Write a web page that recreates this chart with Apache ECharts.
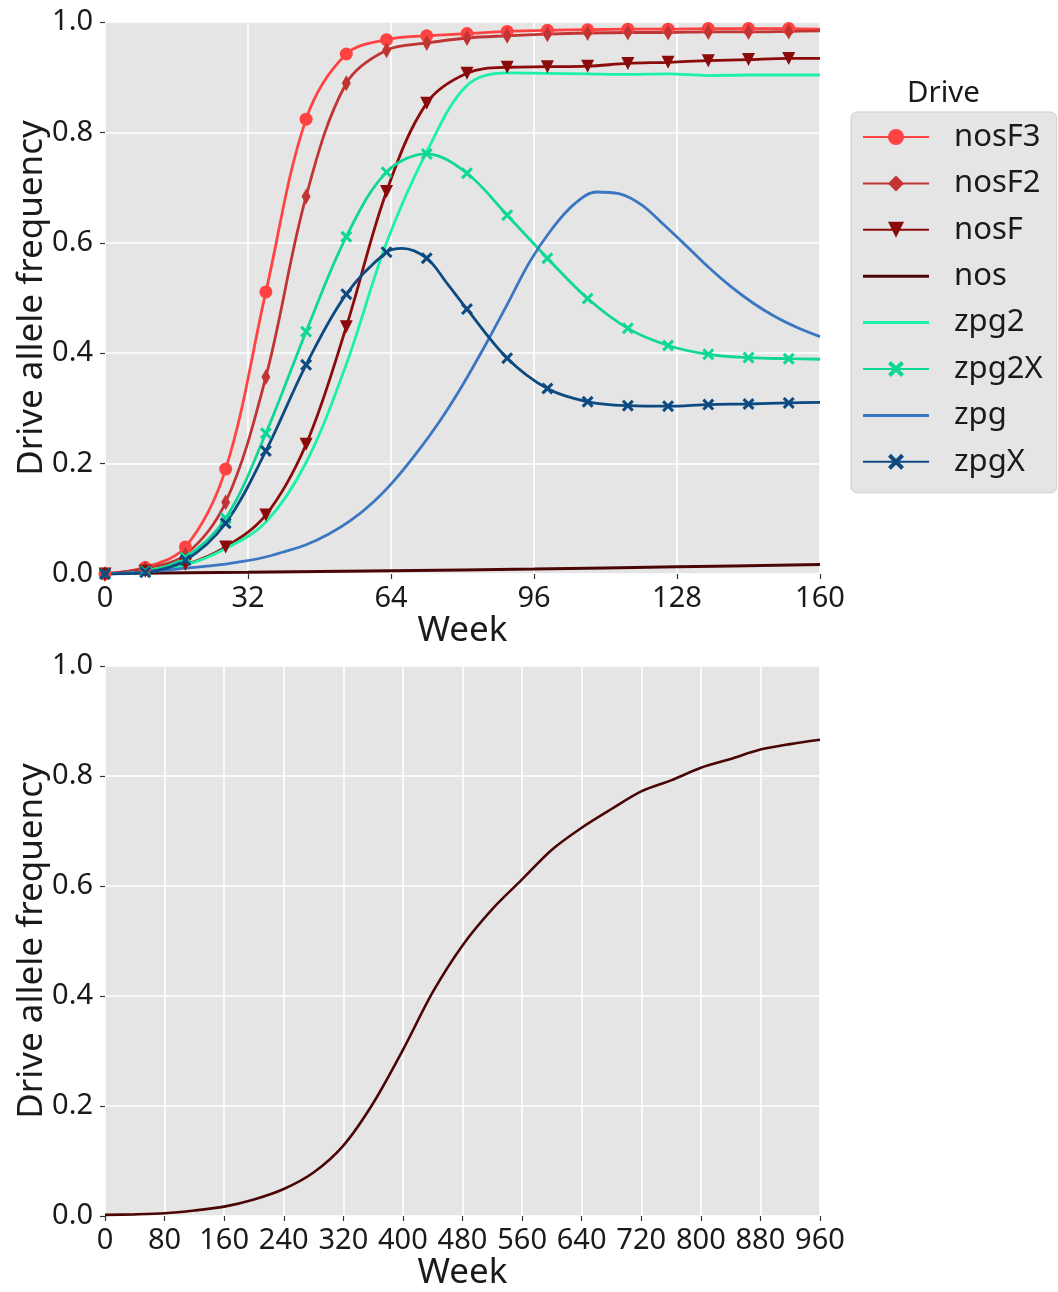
<!DOCTYPE html>
<html>
<head>
<meta charset="utf-8">
<script src="https://cdn.jsdelivr.net/npm/echarts@6/dist/echarts.min.js"></script>
<style>
html,body{margin:0;padding:0;background:#fff;}
#chart{width:1058px;height:1292px;}
</style>
</head>
<body>
<div id="chart"></div>
<script>
// ---- data ----
// marker weeks (every 9 weeks) + final week 160
const weeksTop = [0,9,18,27,36,45,54,63,72,81,90,99,108,117,126,135,144,153,160];
const nosF3  = [0,0.012,0.049,0.19,0.511,0.824,0.942,0.968,0.975,0.979,0.983,0.985,0.986,0.987,0.987,0.988,0.988,0.988,0.987];
const nosF2  = [0,0.010,0.035,0.13,0.357,0.684,0.889,0.949,0.962,0.971,0.975,0.978,0.980,0.981,0.981,0.982,0.982,0.983,0.984];
const nosF   = [0,0.005,0.017,0.049,0.107,0.235,0.448,0.693,0.853,0.907,0.918,0.919,0.920,0.925,0.927,0.930,0.932,0.934,0.934];
const zpg2   = [0,0.004,0.016,0.046,0.094,0.202,0.38,0.60,0.765,0.885,0.908,0.907,0.906,0.905,0.906,0.903,0.904,0.904,0.904];
const zpg2X  = [0,0.005,0.030,0.101,0.255,0.439,0.611,0.728,0.761,0.726,0.650,0.572,0.499,0.445,0.414,0.398,0.392,0.390,0.389];
const zpgX   = [0,0.003,0.025,0.092,0.223,0.379,0.507,0.583,0.572,0.480,0.391,0.336,0.312,0.305,0.304,0.307,0.308,0.310,0.311];
// extra (unmarked) curve points for zpgX around its peak
const zpgXExtraWeeks = [66.5, 76.5];
const zpgXExtra      = [0.590, 0.527];
// zpg (no markers), read every 5 weeks
const weeksZpg = [0,5,10,15,20,25,30,35,40,45,50,55,60,65,70,75,80,85,90,95,100,105,110,115,120,125,130,135,140,145,150,155,160];
const zpg      = [0,0.002,0.004,0.008,0.012,0.016,0.022,0.029,0.040,0.053,0.072,0.097,0.130,0.172,0.222,0.278,0.342,0.413,0.488,0.565,0.625,0.670,0.692,0.689,0.669,0.633,0.595,0.556,0.521,0.491,0.466,0.446,0.430];
// nos (no markers)
const weeksNosTop = [0,32,64,96,128,160];
const nosTop = [0.001,0.003,0.006,0.009,0.013,0.017];
const weeksBottom = [0,40,80,120,160,200,240,280,320,360,400,440,480,520,560,600,640,680,720,760,800,840,880,920,960];
const nosLong = [0.002,0.003,0.005,0.010,0.017,0.030,0.049,0.079,0.128,0.205,0.302,0.407,0.492,0.558,0.612,0.666,0.706,0.740,0.772,0.792,0.815,0.831,0.848,0.858,0.866];
const seriesNames = ['nosF3','nosF2','nosF','nos','zpg2','zpg2X','zpg','zpgX'];

const C = {nosF3:'#ff4343', nosF2:'#c13434', nosF:'#8b0a0a', nos:'#4a0606',
           zpg2:'#1cf2a6', zpg2X:'#0fd896', zpg:'#3a76c2', zpgX:'#0d4a82'};
const X_PATH = 'path://M1.8,0 L5,3.2 L8.2,0 L10,1.8 L6.8,5 L10,8.2 L8.2,10 L5,6.8 L1.8,10 L0,8.2 L3.2,5 L0,1.8 Z';
const LINE_ICON = 'path://M0,0 L66,0 L66,3 L0,3 Z';

function markedPts(xs, ys, exXs, exYs){
  const arr = xs.map((x,i)=>({value:[x,ys[i]], mark: (x % 9 === 0)}));
  (exXs||[]).forEach((x,i)=>arr.push({value:[x,exYs[i]], mark:false}));
  arr.sort((a,b)=>a.value[0]-b.value[0]);
  return arr.map(p => p.mark ? p.value : {value:p.value, symbol:'none'});
}
function lineSeries(name, data, sym, size, extra){
  const s = {
    name, type:'line', xAxisIndex:0, yAxisIndex:0,
    data: data,
    smooth:0.35,
    showSymbol: !!sym,
    symbol: sym || 'none',
    symbolSize: size || 0,
    lineStyle:{color:C[name], width:2.8},
    itemStyle:{color:C[name]},
    emphasis:{disabled:true},
    z: 3
  };
  return Object.assign(s, extra||{});
}

const textColor = '#1a1a1a';
const font = 'Noto Sans';
function xAxisCfg(gi, max, interval){
  return {type:'value', gridIndex:gi, min:0, max:max, interval:interval,
    name:'Week', nameLocation:'middle', nameGap:40, nameMoveOverlap:false,
    nameTextStyle:{fontSize:35, color:textColor, fontFamily:font},
    axisLine:{show:false},
    axisTick:{show:true, length:5, lineStyle:{color:'#333', width:1.2}},
    axisLabel:{fontSize:29, color:textColor, fontFamily:font, margin:10},
    splitLine:{show:true, lineStyle:{color:'#ffffff', width:1.6}}
  };
}
function yAxisCfg(gi){
  return {type:'value', gridIndex:gi, min:0, max:1, interval:0.2,
    name:'Drive allele frequency', nameLocation:'middle', nameGap:55, nameMoveOverlap:false,
    nameTextStyle:{fontSize:35, color:textColor, fontFamily:font},
    axisLine:{show:false},
    axisTick:{show:true, length:5, lineStyle:{color:'#333', width:1.2}},
    axisLabel:{fontSize:29, color:textColor, fontFamily:font, margin:12, formatter:v=>v.toFixed(1)},
    splitLine:{show:true, lineStyle:{color:'#ffffff', width:1.6}}
  };
}

const legendData = seriesNames.map(n => (n==='nos'||n==='zpg2'||n==='zpg') ? {name:n, icon:LINE_ICON} : {name:n});

const chart = echarts.init(document.getElementById('chart'), null, {renderer:'canvas'});
chart.setOption({
  animation:false,
  backgroundColor:'#ffffff',
  textStyle:{fontFamily:font},
  grid:[
    {left:105, top:22, width:715, height:552, show:true, backgroundColor:'#e5e5e5', borderWidth:0},
    {left:105, top:666, width:715, height:552, show:true, backgroundColor:'#e5e5e5', borderWidth:0}
  ],
  xAxis:[xAxisCfg(0,160,32), xAxisCfg(1,960,80)],
  yAxis:[yAxisCfg(0), yAxisCfg(1)],
  legend:{
    data:legendData, orient:'vertical', left:851, top:112,
    backgroundColor:'#e5e5e5', borderColor:'#cfcfcf', borderWidth:1, borderRadius:6,
    padding:[9,14,15,11], itemWidth:66, itemHeight:20, itemGap:14.4,
    textStyle:{fontSize:31, color:textColor, fontFamily:font, lineHeight:32, padding:[0,0,0,20]},
    selectedMode:false
  },
  graphic:[{type:'text', left:907, top:79, style:{text:'Drive', fontSize:29.5, fill:textColor, fontFamily:font}}],
  series:[
    lineSeries('nosF3', markedPts(weeksTop, nosF3), 'circle', 13),
    lineSeries('nosF2', markedPts(weeksTop, nosF2), 'diamond', [9,16]),
    lineSeries('nosF', markedPts(weeksTop, nosF), 'triangle', 13, {symbolRotate:180}),
    lineSeries('nos', weeksNosTop.map((w,i)=>[w,nosTop[i]]), null, 0, {lineStyle:{color:C.nos, width:3}}),
    lineSeries('zpg2', weeksTop.map((w,i)=>[w,zpg2[i]]), null, 0),
    lineSeries('zpg2X', markedPts(weeksTop, zpg2X), X_PATH, 12),
    lineSeries('zpg', weeksZpg.map((w,i)=>[w,zpg[i]]), null, 0),
    lineSeries('zpgX', markedPts(weeksTop, zpgX, zpgXExtraWeeks, zpgXExtra), X_PATH, 12),
    {name:'nos', type:'line', xAxisIndex:1, yAxisIndex:1,
     data: weeksBottom.map((w,i)=>[w, nosLong[i]]), smooth:0.3, showSymbol:false, symbol:'none',
     lineStyle:{color:C.nos, width:2.6}, itemStyle:{color:C.nos}}
  ]
});
</script>
</body>
</html>
